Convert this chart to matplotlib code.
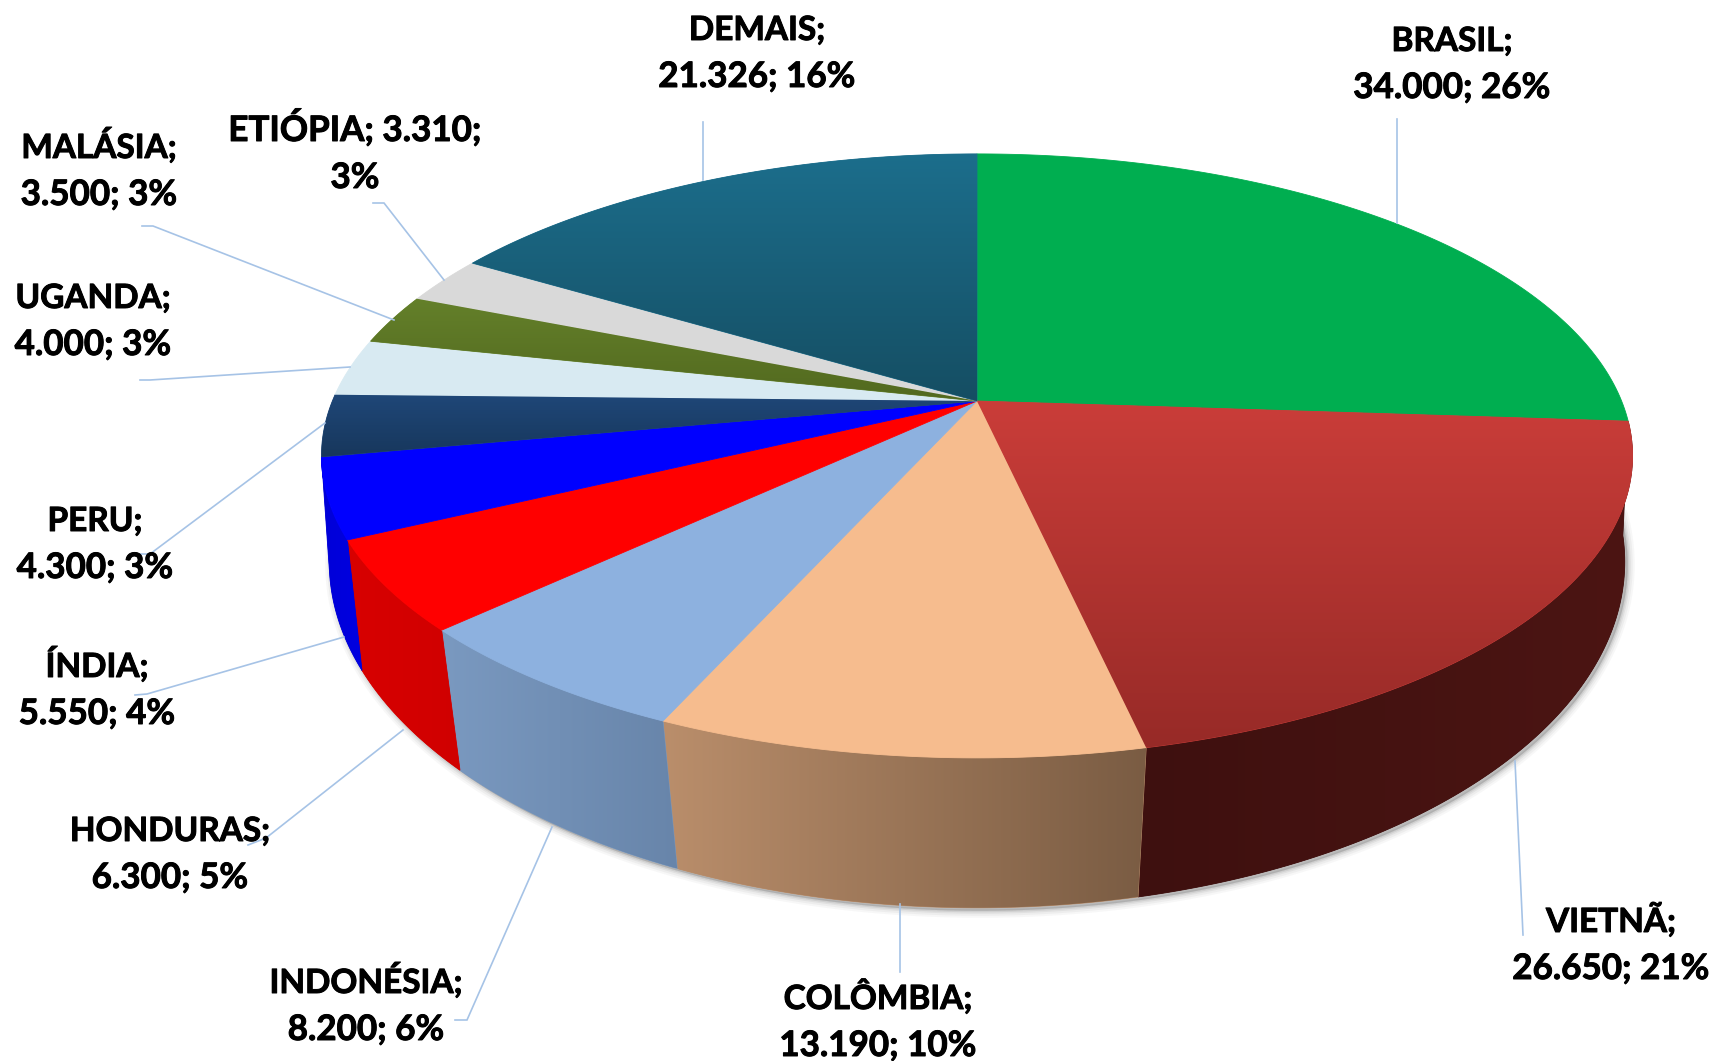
"""
Coffee production by country, drawn as a tilted 3D style pie.
"""

import numpy as np
import matplotlib
matplotlib.use("Agg")
import matplotlib.pyplot as plt
import matplotlib.patheffects as pe
from matplotlib.colors import LinearSegmentedColormap
from matplotlib.patches import Polygon

countries = ["BRASIL", "VIETNÃ", "COLÔMBIA", "INDONÉSIA", "HONDURAS", "ÍNDIA",
             "PERU", "UGANDA", "MALÁSIA", "ETIÓPIA", "DEMAIS"]
values = [34000, 26650, 13190, 8200, 6300, 5550, 4300, 4000, 3500, 3310, 21326]
percents = [26, 21, 10, 6, 5, 4, 3, 3, 3, 3, 16]

# top face gradient (top colour, bottom colour)
top_colors = [("#00AE50", "#00AE50"), ("#CA3D39", "#972A27"), ("#F6BC8E", "#F6BC8E"),
              ("#8DB1DF", "#8DB1DF"), ("#FF0000", "#FF0000"), ("#0000FF", "#0000FF"),
              ("#1F4778", "#17375C"), ("#D8EAF2", "#D8EAF2"), ("#64802A", "#52691F"),
              ("#D9D9D9", "#D9D9D9"), ("#1C6E8C", "#154E63")]
# side wall gradient (left colour, right colour), None where the wall is hidden
wall_colors = [None, ("#3E100F", "#4C1513"), ("#BA8E6B", "#7A5C43"), ("#7A99C0", "#6885AA"),
               ("#D80000", "#D00000"), ("#0000D8", "#0000E0"),
               None, None, None, None, None]

# label rows and where they are centred
label_pos = [(1452, 38), (1611, 919), (878, 996), (366, 980), (170, 828), (97, 664),
             (95, 518), (93, 295), (99, 145), (355, 128), (757, 27)]
leaders = [
    [(1397, 119), (1397, 223)],
    [(1515, 761), (1523, 935)],
    [(900, 904), (900, 972)],
    [(552, 827), (467, 1020), (455, 1020)],
    [(403, 730), (266, 838), (248, 845)],
    [(344, 637), (147, 694), (135, 695)],
    [(325, 423), (150, 554), (138, 554)],
    [(350, 367), (150, 380), (140, 380)],
    [(394, 320), (153, 226), (142, 226)],
    [(444, 280), (384, 203), (373, 203)],
    [(703, 122), (703, 180)],
]

CX, CY = 977, 401
TOP_SHAPE = (644.6, 292.0, 0.1818)
BASE_SHAPE = (641.0, 338.8, 0.144)
BASE_CY = 512
LINE_GAP = 47


def project(angles, cy, shape):
    """Maps clockwise angles from 12 o'clock onto a tilted disc."""
    a, b, p = shape
    x, y = np.sin(angles), np.cos(angles)
    d = 1 + p * y
    return CX + a * x / d, cy - b * y / d


def gradient_fill(ax, xy, colors, vertical, zorder):
    """Fills a polygon with a two colour gradient clipped to its outline."""
    patch = Polygon(xy, closed=True, facecolor=colors[0], edgecolor=colors[0],
                    linewidth=0.6, zorder=zorder)
    ax.add_patch(patch)
    if colors[0] == colors[1]:
        return
    x0, x1 = xy[:, 0].min(), xy[:, 0].max()
    y0, y1 = xy[:, 1].min(), xy[:, 1].max()
    ramp = np.linspace(0, 1, 256)
    ramp = ramp[:, None] if vertical else ramp[None, :]
    cmap = LinearSegmentedColormap.from_list("ramp", colors)
    image = ax.imshow(ramp, cmap=cmap, extent=[x0, x1, y1, y0], aspect="auto",
                      vmin=0, vmax=1, zorder=zorder + 0.1, interpolation="bilinear")
    image.set_clip_path(patch)


fig = plt.figure(figsize=(17.22, 10.61), dpi=100)
ax = fig.add_axes([0, 0, 1, 1])
ax.set_axis_off()

edges = np.cumsum([0] + values) / sum(values) * 2 * np.pi

# soft shadow under the base of the disc
circle = np.linspace(np.pi * 0.5, np.pi * 1.5, 240)
sx, sy = project(circle, BASE_CY, BASE_SHAPE)
shadow = np.column_stack([sx + 3, sy + 3])
for width, alpha in [(14, 0.05), (10, 0.07), (6, 0.10), (3, 0.14)]:
    ax.add_patch(Polygon(shadow, closed=True, facecolor="#707070", edgecolor="#707070",
                         linewidth=width * 0.72, alpha=alpha, joinstyle="round", zorder=1))

for i, colors in enumerate(wall_colors):
    if colors is None:
        continue
    arc = np.linspace(edges[i], edges[i + 1], 120)
    tx, ty = project(arc, CY, TOP_SHAPE)
    bx, by = project(arc, BASE_CY, BASE_SHAPE)
    outline = np.column_stack([np.r_[tx, bx[::-1]], np.r_[ty, by[::-1]]])
    gradient_fill(ax, outline, colors, False, 2 + i * 0.2)

for i, colors in enumerate(top_colors):
    arc = np.linspace(edges[i], edges[i + 1], 120)
    tx, ty = project(arc, CY, TOP_SHAPE)
    outline = np.column_stack([np.r_[CX, tx], np.r_[CY, ty]])
    gradient_fill(ax, outline, colors, True, 6)

for path in leaders:
    px, py = zip(*path)
    ax.plot(px, py, color="#A6C3E6", linewidth=1.2, zorder=8, solid_joinstyle="miter")

for i, name in enumerate(countries):
    value = f"{values[i]:,}".replace(",", ".")
    if name == "ETIÓPIA":
        rows = [f"{name}; {value};", f"{percents[i]}%"]
        sizes = [25.2, 25.2]
    else:
        rows = [f"{name};", f"{value}; {percents[i]}%"]
        sizes = [24, 25.2]
    x, y = label_pos[i]
    for row, text in enumerate(rows):
        label = ax.text(x, y + 13 + row * LINE_GAP, text, family="Lato", fontweight="bold",
                        fontsize=sizes[row], color="black", ha="center", va="baseline", zorder=9)
        label.set_path_effects([pe.withStroke(linewidth=0.7, foreground="black")])

ax.set_xlim(0, 1722)
ax.set_ylim(1061, 0)
fig.savefig("out.png", dpi=100, facecolor="white")
